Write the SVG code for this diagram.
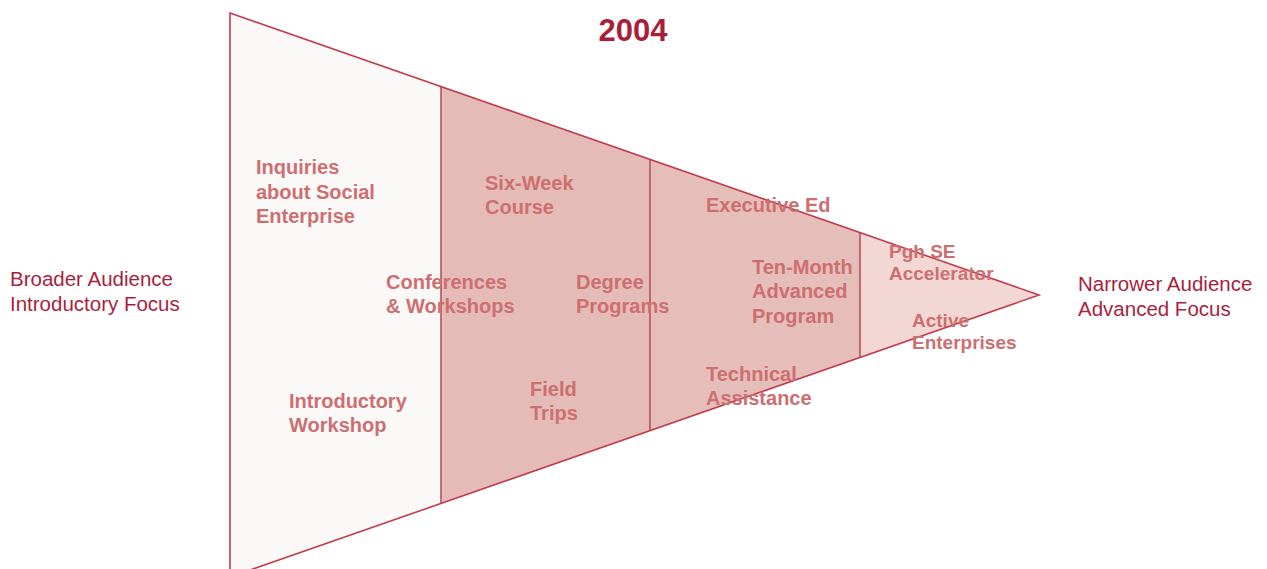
<svg xmlns="http://www.w3.org/2000/svg" width="1267" height="569" viewBox="0 0 1267 569">
  <style>
    .seg { stroke: none; }
    .edge { fill: none; stroke: #C23C4E; stroke-width: 1.6; stroke-linejoin: miter; }
    .div { stroke: #B5535C; stroke-width: 1.6; }
    .lbl { font-family: "Liberation Sans", Arial, sans-serif; font-weight: bold; font-size: 20px; fill: #CD6F70; }
    .sm { font-size: 19px; }
    .side { font-family: "Liberation Sans", Arial, sans-serif; font-size: 20.5px; fill: #A81F3C; }
    .title { font-family: "Liberation Sans", Arial, sans-serif; font-weight: bold; font-size: 31px; fill: #A81F3C; }
  </style>

  <rect width="1267" height="569" fill="#FFFFFF"/>

  <!-- funnel bands, widest on the left -->
  <g id="band-1">
    <polygon class="seg" fill="#FBF9F8" points="230,13 441,86.5 441,503.5 230,577"/>
  </g>
  <g id="band-2">
    <polygon class="seg" fill="#E5BBB7" points="441,86.5 650,159.4 650,430.6 441,503.5"/>
  </g>
  <g id="band-3">
    <polygon class="seg" fill="#E5BDB9" points="650,159.4 860,232.6 860,357.4 650,430.6"/>
  </g>
  <g id="band-4">
    <polygon class="seg" fill="#F2D7D4" points="860,232.6 1039,295 860,357.4"/>
  </g>

  <!-- outline and band dividers -->
  <g id="connectors">
    <line class="div" x1="441" y1="86.5" x2="441" y2="503.5"/>
    <line class="div" x1="650" y1="159.4" x2="650" y2="430.6"/>
    <line class="div" x1="860" y1="232.6" x2="860" y2="357.4"/>
    <polygon class="edge" points="230,13 1039,295 230,577"/>
  </g>

  <g id="title">
    <text class="title" x="633" y="41" text-anchor="middle">2004</text>
  </g>

  <g id="side-broad">
    <text class="side" x="10" y="286">Broader Audience</text>
    <text class="side" x="10" y="311">Introductory Focus</text>
  </g>
  <g id="side-narrow">
    <text class="side" x="1078" y="291">Narrower Audience</text>
    <text class="side" x="1078" y="316">Advanced Focus</text>
  </g>

  <g id="inquiries">
    <text class="lbl" x="256" y="174">Inquiries</text>
    <text class="lbl" x="256" y="199">about Social</text>
    <text class="lbl" x="256" y="223">Enterprise</text>
  </g>
  <g id="intro-workshop">
    <text class="lbl" x="289" y="408">Introductory</text>
    <text class="lbl" x="289" y="432">Workshop</text>
  </g>
  <g id="conferences">
    <text class="lbl" x="386" y="289">Conferences</text>
    <text class="lbl" x="386" y="313">&amp; Workshops</text>
  </g>
  <g id="six-week">
    <text class="lbl" x="485" y="190">Six-Week</text>
    <text class="lbl" x="485" y="214">Course</text>
  </g>
  <g id="degree">
    <text class="lbl" x="576" y="289">Degree</text>
    <text class="lbl" x="576" y="313">Programs</text>
  </g>
  <g id="field-trips">
    <text class="lbl" x="530" y="396">Field</text>
    <text class="lbl" x="530" y="420">Trips</text>
  </g>
  <g id="exec-ed">
    <text class="lbl" x="706" y="212">Executive Ed</text>
  </g>
  <g id="ten-month">
    <text class="lbl" x="752" y="274">Ten-Month</text>
    <text class="lbl" x="752" y="298">Advanced</text>
    <text class="lbl" x="752" y="323">Program</text>
  </g>
  <g id="technical">
    <text class="lbl" x="706" y="381">Technical</text>
    <text class="lbl" x="706" y="405">Assistance</text>
  </g>
  <g id="accelerator">
    <text class="lbl sm" x="889" y="258">Pgh SE</text>
    <text class="lbl sm" x="889" y="280">Accelerator</text>
  </g>
  <g id="active">
    <text class="lbl sm" x="912" y="327">Active</text>
    <text class="lbl sm" x="912" y="349">Enterprises</text>
  </g>
</svg>
